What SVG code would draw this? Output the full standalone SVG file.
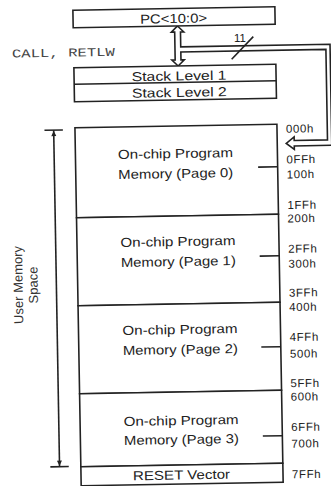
<svg xmlns="http://www.w3.org/2000/svg" width="331" height="486" viewBox="0 0 331 486">
<style>
.box{fill:#fff;stroke:#222;stroke-width:1.6}
.ln{fill:none;stroke:#222;stroke-width:1.6}
.t{font-family:"Liberation Sans",Arial,sans-serif;font-size:13px;fill:#222;text-anchor:middle}
.h{font-family:"Liberation Sans",Arial,sans-serif;font-size:11.5px;letter-spacing:0.6px;fill:#222}
.m{font-family:"Liberation Mono","Courier New",monospace;font-size:12px;fill:#444}
.v{font-family:"Liberation Sans",Arial,sans-serif;font-size:13px;fill:#333;text-anchor:middle}
</style>
<rect width="331" height="486" fill="#fff"/>
<g transform="rotate(-1 178 245)">
  <g id="connectors">
    <path class="box" d="M181.3,26 L187.5,32 H184.2 V47 H333.5 V148 H296 V151.5 L288,145.3 L296,139 V142.5 H329.3 V52 H184.2 V60 H187.5 L181.3,66 L175.1,60 H178.4 V32 H175.1 Z"/>
    <line class="ln" x1="234.9" y1="60.2" x2="256.9" y2="38"/>
    <text class="t" x="243.5" y="43" style="font-size:11.5px">11</text>
  </g>
  <g id="pc">
    <rect class="box" x="77" y="8.5" width="202" height="17.5"/>
    <text class="t" x="177.5" y="23" textLength="67" lengthAdjust="spacingAndGlyphs">PC&lt;10:0&gt;</text>
  </g>
  <text id="call-label" class="m" x="15.3" y="54.7" textLength="103" lengthAdjust="spacingAndGlyphs">CALL, RETLW</text>
  <g id="stack">
    <rect class="box" x="77" y="66" width="202" height="34"/>
    <line class="ln" x1="77" y1="82.5" x2="279" y2="82.5"/>
    <text class="t" x="182" y="80.5" textLength="95" lengthAdjust="spacingAndGlyphs">Stack Level 1</text>
    <text class="t" x="182" y="97" textLength="95" lengthAdjust="spacingAndGlyphs">Stack Level 2</text>
  </g>
  <g id="page0">
    <rect class="box" x="77" y="126" width="202" height="90"/>
    <line class="ln" x1="259.5" y1="168.5" x2="279" y2="168.5"/>
    <text class="t" x="177" y="158" textLength="115" lengthAdjust="spacingAndGlyphs">On-chip Program</text>
    <text class="t" x="177" y="178" textLength="115" lengthAdjust="spacingAndGlyphs">Memory (Page 0)</text>
  </g>
  <g id="page1">
    <rect class="box" x="77" y="216" width="202" height="88"/>
    <line class="ln" x1="259.5" y1="257.5" x2="279" y2="257.5"/>
    <text class="t" x="178" y="246" textLength="115" lengthAdjust="spacingAndGlyphs">On-chip Program</text>
    <text class="t" x="178" y="266" textLength="115" lengthAdjust="spacingAndGlyphs">Memory (Page 1)</text>
  </g>
  <g id="page2">
    <rect class="box" x="77" y="304" width="202" height="88"/>
    <line class="ln" x1="259.5" y1="348.5" x2="279" y2="348.5"/>
    <text class="t" x="178.5" y="334" textLength="115" lengthAdjust="spacingAndGlyphs">On-chip Program</text>
    <text class="t" x="178.5" y="354" textLength="115" lengthAdjust="spacingAndGlyphs">Memory (Page 2)</text>
  </g>
  <g id="page3">
    <rect class="box" x="77" y="392" width="202" height="73"/>
    <line class="ln" x1="259.5" y1="437.5" x2="279" y2="437.5"/>
    <text class="t" x="178" y="425" textLength="115" lengthAdjust="spacingAndGlyphs">On-chip Program</text>
    <text class="t" x="178" y="444" textLength="115" lengthAdjust="spacingAndGlyphs">Memory (Page 3)</text>
  </g>
  <g id="reset">
    <rect class="box" x="77" y="465" width="202" height="19"/>
    <text class="t" x="177.5" y="479.5" textLength="97" lengthAdjust="spacingAndGlyphs">RESET Vector</text>
  </g>
  <g id="addresses">
    <text class="h" x="288" y="134.7">000h</text>
    <text class="h" x="288" y="165.3">0FFh</text>
    <text class="h" x="288" y="180.3">100h</text>
    <text class="h" x="288" y="211">1FFh</text>
    <text class="h" x="288" y="224.3">200h</text>
    <text class="h" x="288" y="254.7">2FFh</text>
    <text class="h" x="288" y="269.7">300h</text>
    <text class="h" x="288" y="298.7">3FFh</text>
    <text class="h" x="288" y="313">400h</text>
    <text class="h" x="288" y="343">4FFh</text>
    <text class="h" x="288" y="359.7">500h</text>
    <text class="h" x="288" y="389.3">5FFh</text>
    <text class="h" x="288" y="402.7">600h</text>
    <text class="h" x="288" y="433">6FFh</text>
    <text class="h" x="288" y="449.7">700h</text>
    <text class="h" x="288" y="480.3">7FFh</text>
  </g>
  <g id="user-memory-space">
    <line class="ln" x1="55.7" y1="128" x2="55.7" y2="464.6"/>
    <line class="ln" x1="46.5" y1="128" x2="64.9" y2="128"/>
    <line class="ln" x1="46.5" y1="464.6" x2="64.9" y2="464.6"/>
    <path d="M55.7,128.5 L58.2,134 H53.2 Z M55.7,464 L58.2,458.5 H53.2 Z" fill="#222"/>
    <text class="v" transform="translate(22 282.2) rotate(-90)">User Memory</text>
    <text class="v" transform="translate(37 282.5) rotate(-90)">Space</text>
  </g>
</g>
</svg>
